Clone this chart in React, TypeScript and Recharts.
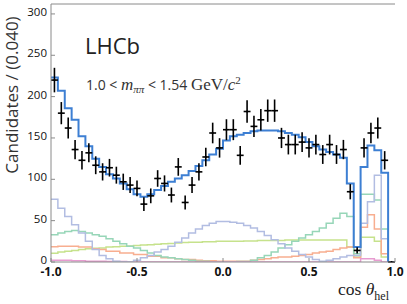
import { ComposedChart, ErrorBar, Line, Scatter, XAxis, YAxis } from 'recharts'

// 50 bins of 0.04 in cos(theta_hel), -1 .. 1
const BIN_WIDTH = 0.04
const N_BINS = 50

const dataCounts = [
  220, 180, 162, 136, 123, 132, 117, 109, 114, 105,
  97, 93, 89, 70, 80, 101, 95, 81, 115, 72,
  93, 109, 127, 156, 138, 160, 160, 129, 182, 164,
  172, 183, 183, 150, 142, 142, 145, 138, 142, 130,
  142, 130, 136, 85, 14, 138, 156, 162, 123, 0,
]

const fitTotal = [
  223, 207, 186, 172, 152, 140, 125, 115, 106, 101,
  95, 88, 82, 79, 82, 87, 92, 97, 101, 105,
  110, 116, 123, 130, 137, 147, 152, 154, 156, 158,
  159, 159, 159, 158, 156, 154, 151, 145, 140, 136,
  133, 130, 126, 95, 18, 115, 141, 135, 108, 0,
]

const compLavender = [
  76, 65, 55, 45, 35, 25, 15, 8, 4, 1,
  0, 0, 2, 5, 8, 12, 15, 19, 24, 29,
  35, 40, 44, 47, 49, 49, 48, 47, 44, 41,
  37, 32, 27, 22, 17, 13, 9, 6, 3, 1,
  2, 4, 6, 8, 8, 47, 73, 105, 28, 0,
]

const compMint = [
  33, 35, 37, 38, 37, 35, 33, 31, 28, 25,
  22, 19, 17, 14, 11, 8, 6, 5, 4, 3,
  2, 1, 1, 0, 0, 0, 0, 0.5, 0.5, 2,
  5, 8, 12, 17, 21, 25, 29, 33, 37, 41,
  47, 53, 59, 55, 10, 82, 82, 75, 40, 0,
]

const compOrange = [
  18.5, 19, 19, 19, 18, 18, 16, 15, 13, 13,
  11, 11, 9, 9, 7, 7, 5, 5, 4, 3,
  3, 2, 1.5, 1.5, 1, 1, 1, 1, 1, 2,
  3, 4, 5, 6, 6, 7, 8, 9, 11, 12,
  13, 15, 17, 18, 5, 42, 57, 40, 10, 0,
]

const compLime = [
  10.5, 12, 13, 14, 15, 16, 16.5, 17, 18, 18.5,
  19, 19.5, 20, 20.5, 21, 21.5, 22, 22.5, 23, 23.5,
  24, 24, 24.5, 24.5, 25, 25, 25, 25, 25.5, 25.5,
  26, 26, 26, 26, 26.5, 26.5, 26.5, 26.5, 26.5, 26.5,
  26.5, 26.5, 26.5, 18, 6, 30, 30, 25, 6, 0,
]

const compPink = [
  2, 2, 2, 1.5, 1.5, 1, 1, 1, 0.5, 0.5,
  0.5, 0, 0, 0, 0, 0, 0, 0, 0, 0,
  0, 0, 0, 0, 0, 0, 0, 0, 0, 0,
  0, 0, 0, 0, 0, 0, 0, 0, 0, 0,
  0, 0, 0, 0, 0, 4, 4, 2, 0, 0,
]

const xTicks = [-1, -0.5, 0, 0.5, 1]
const yTicks = [0, 50, 100, 150, 200, 250, 300]

// step histograms: one row per bin edge, last edge repeats the last bin
const histRows = Array.from({ length: N_BINS + 1 }, (_, k) => {
  const i = Math.min(k, N_BINS - 1)
  return {
    x: -1 + BIN_WIDTH * k,
    fit: fitTotal[i],
    lav: compLavender[i],
    mint: compMint[i],
    orange: compOrange[i],
    lime: compLime[i],
    pink: compPink[i],
  }
})

const points = dataCounts.map((n, i) => ({
  x: -1 + BIN_WIDTH * (i + 0.5),
  y: n,
  ey: Math.sqrt(n),
  ex: BIN_WIDTH / 2,
}))

const frame = '#8a8a8a'
const serif = '"Liberation Serif", "DejaVu Serif", serif'
const sans = '"Open Sans", "Noto Sans", sans-serif'

const components = [
  { key: 'lime', color: '#c6e28c' },
  { key: 'orange', color: '#f8ae90' },
  { key: 'mint', color: '#97d6b8' },
  { key: 'pink', color: '#e79bd0' },
  { key: 'lav', color: '#b2bde2' },
]

export default function App() {
  return (
    <div style={{ position: 'absolute', left: 0, top: 0, width: 407, height: 304, background: '#fff' }}>
      <ComposedChart
        width={407}
        height={304}
        data={histRows}
        margin={{ top: 3, right: 12, left: 11, bottom: 12 }}
      >
        <XAxis
          dataKey="x"
          type="number"
          domain={[-1, 1]}
          ticks={xTicks}
          interval={0}
          allowDataOverflow
          tickFormatter={(v: number) => v.toFixed(1)}
          tickSize={-4}
          tickMargin={9}
          height={30}
          axisLine={{ stroke: frame }}
          tickLine={{ stroke: frame }}
          tick={{ fontSize: 12, fontWeight: 700, fill: '#111', fontFamily: sans }}
        />
        <XAxis
          xAxisId="top"
          orientation="top"
          type="number"
          domain={[-1, 1]}
          ticks={xTicks}
          interval={0}
          tickSize={-4}
          tick={false}
          height={1}
          axisLine={{ stroke: frame }}
          tickLine={{ stroke: frame }}
        />
        <YAxis
          type="number"
          domain={[0, 312]}
          ticks={yTicks}
          interval={0}
          allowDataOverflow
          tickSize={-4}
          tickMargin={8}
          width={40}
          axisLine={{ stroke: frame }}
          tickLine={{ stroke: frame }}
          tick={{ fontSize: 11.5, fill: '#111', fontFamily: sans, dy: -2 }}
        />
        <YAxis
          yAxisId="right"
          orientation="right"
          type="number"
          domain={[0, 312]}
          ticks={yTicks}
          interval={0}
          tickSize={-4}
          tick={false}
          width={0}
          axisLine={{ stroke: frame }}
          tickLine={{ stroke: frame }}
        />
        {components.map((c) => (
          <Line
            key={c.key}
            dataKey={c.key}
            type="stepAfter"
            stroke={c.color}
            strokeWidth={1.5}
            dot={false}
            activeDot={false}
            isAnimationActive={false}
          />
        ))}
        <Line
          dataKey="fit"
          type="stepAfter"
          stroke="#3d7fd3"
          strokeWidth={2}
          dot={false}
          activeDot={false}
          isAnimationActive={false}
        />
        <Scatter
          data={points}
          dataKey="y"
          isAnimationActive={false}
          shape={(p: any) => <circle cx={p.cx} cy={p.cy} r={1} fill="#000" />}
        >
          <ErrorBar dataKey="ey" direction="y" width={0} stroke="#000" strokeWidth={1.6} />
          <ErrorBar dataKey="ex" direction="x" width={0} stroke="#000" strokeWidth={1.6} />
        </Scatter>
      </ComposedChart>

      <div
        style={{
          position: 'absolute',
          left: 11,
          top: 95,
          transform: 'translate(-50%, -50%) rotate(-90deg)',
          whiteSpace: 'nowrap',
          fontFamily: sans,
          fontSize: 17,
          color: '#333',
        }}
      >
        Candidates / (0.040)
      </div>
      <div
        style={{
          position: 'absolute',
          left: 85,
          top: 30,
          fontFamily: sans,
          fontSize: 22,
          color: '#222',
          lineHeight: '30px',
        }}
      >
        LHCb
      </div>
      <div
        style={{
          position: 'absolute',
          left: 86,
          top: 71,
          fontFamily: sans,
          fontSize: 14,
          color: '#333',
          whiteSpace: 'nowrap',
          lineHeight: '18px',
        }}
      >
        1.0 &lt; <span style={{ fontFamily: serif, fontStyle: 'italic', fontSize: 17 }}>m</span>
        <sub style={{ fontFamily: serif, fontStyle: 'italic', fontSize: 11 }}>ππ</sub> &lt; 1.54{' '}
        <span style={{ fontFamily: serif, fontSize: 17 }}>GeV/</span>
        <span style={{ fontFamily: serif, fontStyle: 'italic', fontSize: 17 }}>c</span>
        <sup style={{ fontFamily: serif, fontSize: 11 }}>2</sup>
      </div>
      <div
        style={{
          position: 'absolute',
          left: 338,
          top: 280,
          fontFamily: serif,
          fontSize: 17.5,
          color: '#222',
          whiteSpace: 'nowrap',
          lineHeight: '18px',
        }}
      >
        cos <span style={{ fontStyle: 'italic' }}>θ</span>
        <sub style={{ fontSize: 12 }}>hel</sub>
      </div>
    </div>
  )
}
